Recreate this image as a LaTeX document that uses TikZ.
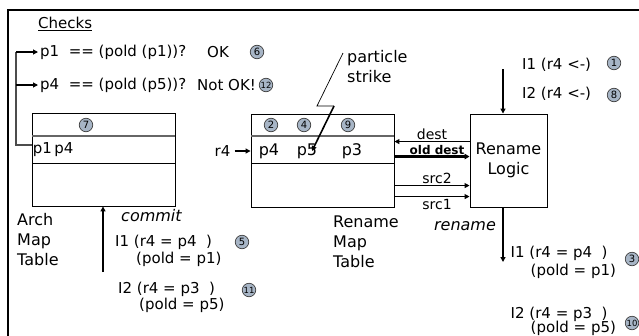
\documentclass[tikz,border=0pt]{standalone}
\usepackage{fontspec}
\setmainfont{DejaVu Sans}
\usetikzlibrary{arrows.meta,calc}
\definecolor{numfill}{HTML}{A7B5C6}
\begin{document}
\begin{tikzpicture}[x=1pt,y=-1pt,
  txt/.style={inner sep=0pt, anchor=west, font=\fontsize{15}{18}\selectfont},
  big/.style={inner sep=0pt, anchor=west, align=left, font=\fontsize{16}{20}\selectfont},
  num/.style={circle, draw=black!75, line width=0.7pt, fill=numfill, minimum size=13.5pt, inner sep=0pt, font=\fontsize{10}{11}\selectfont},
  numtwo/.style={num, font=\fontsize{8.5}{9}\selectfont},
  arr/.style={-{Triangle[length=5pt,width=5pt]}, line width=1.6pt},
  thinarr/.style={-{Triangle[length=5pt,width=5pt]}, line width=1.1pt},
  box/.style={draw, line width=0.9pt, inner sep=0pt},
  lab/.style={inner sep=0pt, font=\fontsize{14}{16}\selectfont},
  divtop/.style={draw=black!60, line width=1.3pt},
  divbot/.style={draw, line width=0.9pt},
]
\useasboundingbox (0,0) rectangle (639,335);
% frame
\draw[line width=2pt] (8,336) -- (8,10) -- (640,10);

% boxes
\node[box, minimum width=143pt, minimum height=93pt] (arch) at (103.5,159.5) {};
\node[box, minimum width=143pt, minimum height=93pt] (rmt) at (322.5,160.5) {};
\node[box, minimum width=77pt, minimum height=93pt, align=center, font=\fontsize{16}{20}\selectfont] (logic) at (508.5,160.5) {Rename\\Logic};

\draw[divtop] (32,136) -- (175,136);
\draw[divbot] (32,163) -- (175,163);
\draw[divtop] (251,136) -- (394,136);
\draw[divbot] (251,163) -- (394,163);

% table contents
\node[num] (n7) at (86,125) {7};
\node[inner sep=0pt, font=\fontsize{15}{18}\selectfont] (ap1) at (42.5,150) {p1};
\node[inner sep=0pt, font=\fontsize{15}{18}\selectfont] (ap4) at (64,150) {p4};

\node[num] (n2) at (271,125) {2};
\node[num] (n4) at (304,125) {4};
\node[num] (n9) at (348,125) {9};
\node[inner sep=0pt, font=\fontsize{16}{18}\selectfont] (rp4) at (269,151) {p4};
\node[inner sep=0pt, font=\fontsize{16}{18}\selectfont] (rp5) at (307,151) {p5};
\node[inner sep=0pt, font=\fontsize{16}{18}\selectfont] (rp3) at (352,151) {p3};
\node[inner sep=0pt, font=\fontsize{15}{18}\selectfont] (r4) at (222.5,151) {r4};
\draw[thinarr] ([xshift=4pt]r4.east) -- (rmt.west |- r4.east);

% checks
\node[txt] (checks) at (38,24) {\underline{Checks}};
\node[txt] (chk1) at (40,52) {p1\ \ == (pold (p1))?};
\node[txt] (ok) at (207,52) {OK};
\node[num] (n6) at (257,52) {6};
\node[txt] (chk2) at (40,85) {p4\ \ == (pold (p5))?};
\node[txt] (nok) at (197,85) {Not OK!};
\node[numtwo] (n12) at (266,85) {12};

\coordinate (archrow) at (32,145);
\coordinate (c1) at (16,52);
\coordinate (c2) at (16,85);
\draw[black!70, line width=1.2pt] (archrow) -- (archrow -| c1) -- (c1);
\draw[thinarr] (c1) -- ([xshift=-2pt]chk1.west);
\draw[thinarr] (c2) -- ([xshift=-2pt]chk2.west);

% particle strike
\node[big] (ps) at (347,67) {particle\\strike};
\coordinate (ls) at (343,53);
\coordinate (la) at (317,106);
\coordinate (lb) at (334,106);
\coordinate (lt) at (312,151);
\draw[line width=0.7pt] (ls) -- (la) -- (lb);
\draw[arr] (lb) -- (lt);

% rename logic inputs
\node[txt] (i1r) at (522,65) {I1 (r4 <-)};
\node[num] (n1) at (614,63) {1};
\node[txt] (i2r) at (522,94) {I2 (r4 <-)};
\node[num] (n8) at (614,95) {8};
\coordinate (tin) at (503,69);
\draw[arr] (tin) -- (tin |- logic.north);

% connections between rename map table and logic
\draw[thinarr] ($(logic.north west)+(0,28)$) -- ($(rmt.north east)+(0,28)$);
\draw[-{Triangle[length=5pt,width=5.5pt]}, line width=2.2pt] ($(rmt.north east)+(0,43)$) -- ($(logic.north west)+(0,43)$);
\draw[thinarr] ($(rmt.north east)+(0,72)$) -- ($(logic.north west)+(0,72)$);
\draw[thinarr] ($(rmt.north east)+(0,83)$) -- ($(logic.north west)+(0,83)$);
\node[lab] (ldest) at (432,134) {dest};
\node[inner sep=0pt, font=\bfseries\fontsize{12}{14}\selectfont] (lold) at (437,150) {old dest};
\node[lab] (lsrc2) at (437,178) {src2};
\node[lab] (lsrc1) at (437,204) {src1};

% rename output
\coordinate (bout) at (503,262);
\draw[arr] (bout |- logic.south) -- (bout);
\node[inner sep=0pt, font=\itshape\fontsize{16}{18}\selectfont] (lren) at (465,226) {rename};
\node[big] (rmtlab) at (333,242) {Rename\\Map\\Table};
\node[txt] (ro1) at (510.5,253) {I1 (r4 = p4\ \ )};
\node[txt] (ro1b) at (530.5,271) {(pold = p1)};
\node[num] (n3) at (632,259) {3};
\node[txt] (ro2) at (510.5,314) {I2 (r4 = p3\ \ )};
\node[txt] (ro2b) at (530.5,328) {(pold = p5)};
\node[numtwo] (n10) at (632,323) {10};

% commit
\node[big] (archlab) at (17,239.5) {Arch\\Map\\Table};
\coordinate (cin) at (103,272);
\draw[arr] (cin) -- (cin |- arch.south);
\node[inner sep=0pt, anchor=west, font=\itshape\fontsize{16}{18}\selectfont] (lcom) at (121,216) {commit};
\node[txt] (co1) at (115,242) {I1 (r4 = p4\ \ )};
\node[txt] (co1b) at (136,259) {(pold = p1)};
\node[num] (n5) at (242,242) {5};
\node[txt] (co2) at (118,289) {I2 (r4 = p3\ \ )};
\node[txt] (co2b) at (139,305) {(pold = p5)};
\node[numtwo] (n11) at (249,290) {11};
\end{tikzpicture}
\end{document}
